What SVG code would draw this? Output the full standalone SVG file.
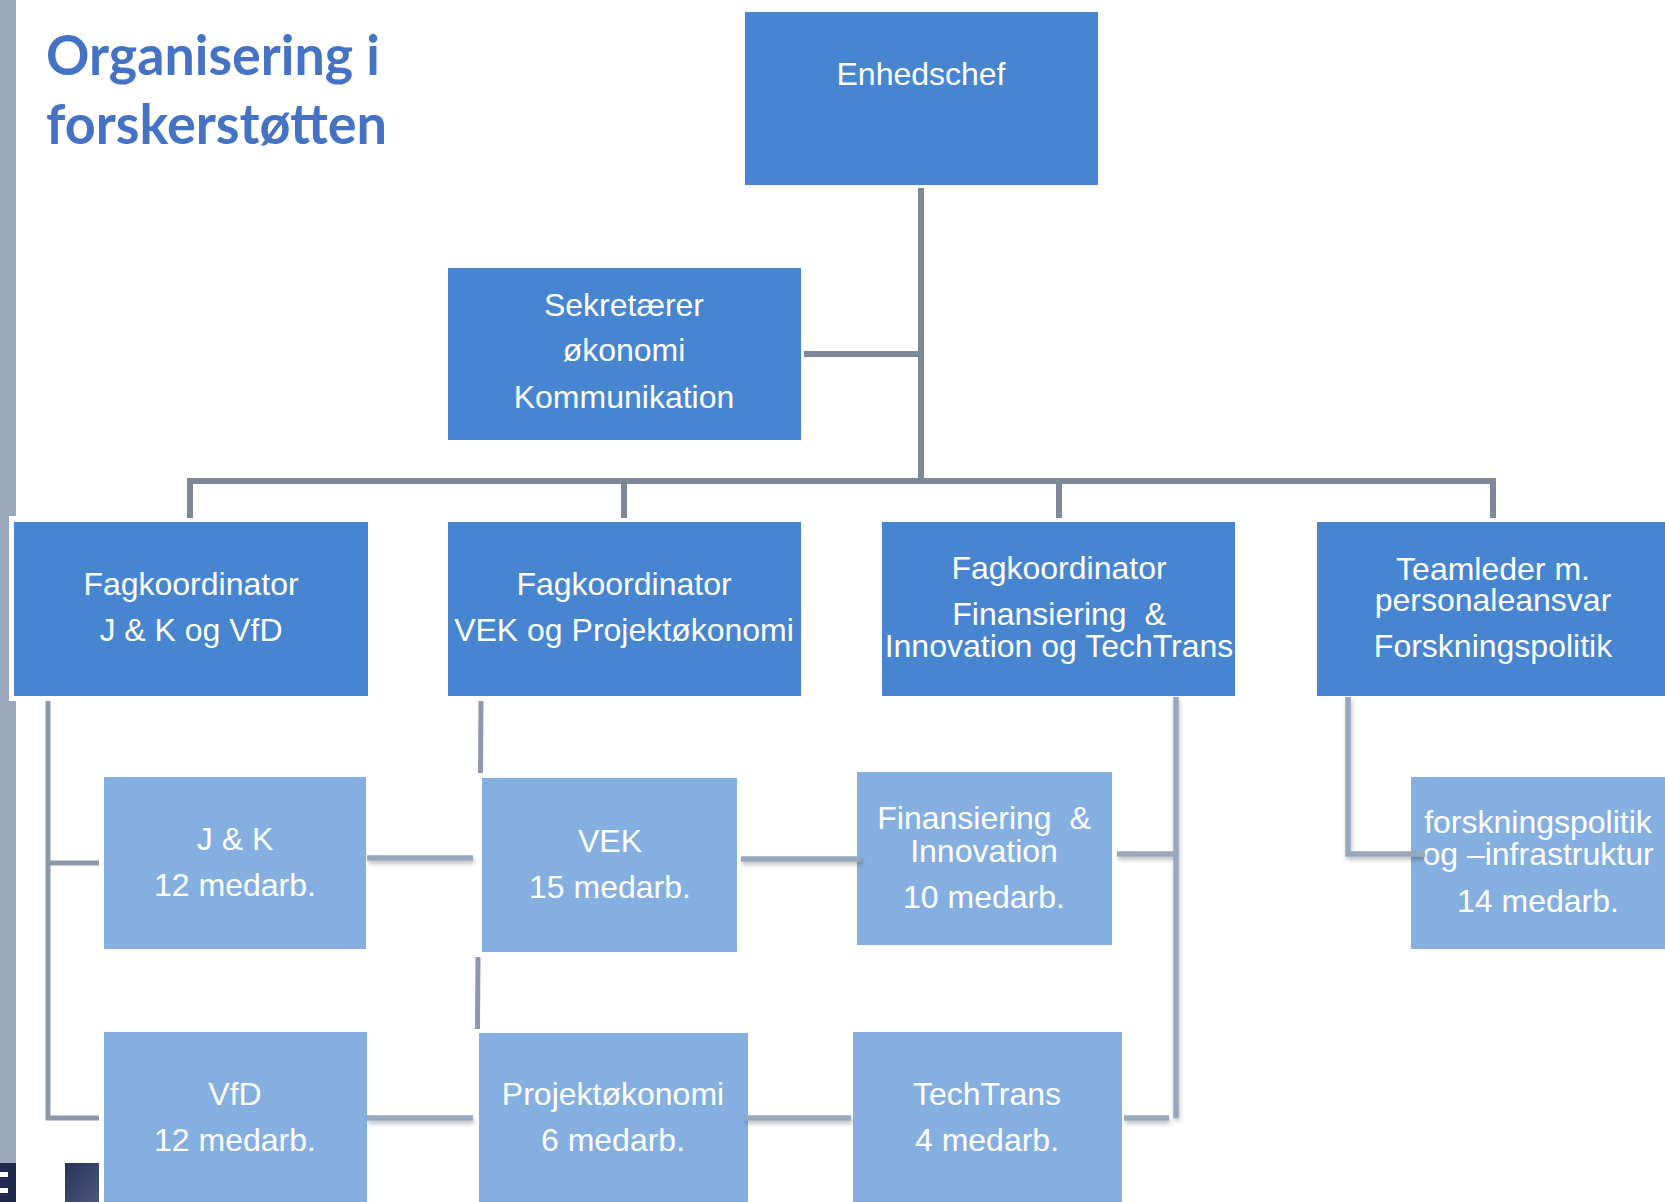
<svg xmlns="http://www.w3.org/2000/svg" width="1665" height="1202" viewBox="0 0 1665 1202">
<defs>
<style>
.dark{fill:#4785d0}
.light{fill:#85afe0}
.halo{fill:#ffffff}
.t{font-family:"Liberation Sans",Arial,sans-serif;font-size:32px;fill:#ffffff;text-anchor:middle}
.title{font-family:Lato,"Open Sans",sans-serif;font-weight:700;font-size:56px;fill:#4472c4}
.top{fill:none;stroke:#7d8898;stroke-width:6;stroke-linecap:square}
.low{fill:none;stroke:#97a8bd;stroke-width:5.5;stroke-linecap:butt;filter:url(#sh)}
.lowd{fill:none;stroke:#8c99ad;stroke-width:5;stroke-linecap:butt}
</style>
<filter id="sh" x="-20%" y="-20%" width="140%" height="180%">
<feDropShadow dx="1" dy="3" stdDeviation="2" flood-color="#000" flood-opacity="0.25"/>
</filter>
<linearGradient id="navy" x1="0" y1="0" x2="1" y2="1">
<stop offset="0" stop-color="#283458"/>
<stop offset="1" stop-color="#4c5779"/>
</linearGradient>
</defs>
<rect width="1665" height="1202" fill="#ffffff"/>
<rect x="0" y="0" width="16" height="1163" fill="#9aa9bc"/>
<rect x="0" y="1163" width="16" height="39" fill="#1f2a4d"/>
<rect x="0" y="1172" width="8" height="5" fill="#ffffff"/>
<rect x="0" y="1188" width="8" height="5" fill="#ffffff"/>
<rect x="65" y="1163" width="34" height="39" fill="url(#navy)"/>

<text class="title" x="46" y="75" textLength="334" lengthAdjust="spacingAndGlyphs">Organisering i</text>
<text class="title" x="46" y="144" textLength="341" lengthAdjust="spacingAndGlyphs">forskerstøtten</text>

<g id="enhedschef">
<rect class="dark" x="745" y="12" width="353" height="173"/>
<text class="t" x="921" y="85">Enhedschef</text>
</g>
<g id="sekretaerer">
<rect class="dark" x="448" y="268" width="353" height="172"/>
<text class="t" x="624" y="316">Sekretærer</text>
<text class="t" x="624" y="361">økonomi</text>
<text class="t" x="624" y="408">Kommunikation</text>
</g>
<g id="fag-jk">
<rect class="halo" x="9" y="516" width="364" height="185"/>
<rect class="dark" x="14" y="522" width="354" height="174"/>
<text class="t" x="191" y="595">Fagkoordinator</text>
<text class="t" x="191" y="641">J &amp; K og VfD</text>
</g>
<g id="fag-vek">
<rect class="dark" x="448" y="522" width="353" height="174"/>
<text class="t" x="624" y="595">Fagkoordinator</text>
<text class="t" x="624" y="641">VEK og Projektøkonomi</text>
</g>
<g id="fag-fin">
<rect class="dark" x="882" y="522" width="353" height="174"/>
<text class="t" x="1059" y="579">Fagkoordinator</text>
<text class="t" x="1059" y="625" xml:space="preserve">Finansiering  &amp;</text>
<text class="t" x="1059" y="657">Innovation og TechTrans</text>
</g>
<g id="teamleder">
<rect class="dark" x="1317" y="522" width="352" height="174"/>
<text class="t" x="1493" y="580">Teamleder m.</text>
<text class="t" x="1493" y="611">personaleansvar</text>
<text class="t" x="1493" y="657">Forskningspolitik</text>
</g>

<g id="jk">
<rect class="light" x="104" y="777" width="262" height="172"/>
<text class="t" x="235" y="850">J &amp; K</text>
<text class="t" x="235" y="896">12 medarb.</text>
</g>
<g id="vek">
<rect class="light" x="482" y="778" width="255" height="174"/>
<text class="t" x="610" y="852">VEK</text>
<text class="t" x="610" y="898">15 medarb.</text>
</g>
<g id="fininn">
<rect class="light" x="857" y="772" width="255" height="173"/>
<text class="t" x="984" y="829" xml:space="preserve">Finansiering  &amp;</text>
<text class="t" x="984" y="862">Innovation</text>
<text class="t" x="984" y="908">10 medarb.</text>
</g>
<g id="forskningspolitik">
<rect class="light" x="1411" y="777" width="254" height="172"/>
<text class="t" x="1538" y="833">forskningspolitik</text>
<text class="t" x="1538" y="865">og –infrastruktur</text>
<text class="t" x="1538" y="912">14 medarb.</text>
</g>
<g id="vfd">
<rect class="light" x="104" y="1032" width="263" height="170"/>
<text class="t" x="235" y="1105">VfD</text>
<text class="t" x="235" y="1151">12 medarb.</text>
</g>
<g id="projektokonomi">
<rect class="light" x="479" y="1033" width="269" height="169"/>
<text class="t" x="613" y="1105">Projektøkonomi</text>
<text class="t" x="613" y="1151">6 medarb.</text>
</g>
<g id="techtrans">
<rect class="light" x="853" y="1032" width="269" height="170"/>
<text class="t" x="987" y="1105">TechTrans</text>
<text class="t" x="987" y="1151">4 medarb.</text>
</g>

<g id="connectors">
<path class="top" d="M921,191 V481 M807,354 H921 M190,515 V481 H1493 V515 M624,481 V515 M1059,481 V515"/>
<path class="lowd" d="M48,701 V1118 H99 M48,863 H99"/>
<path class="low" d="M367,858 H473 M741,859 H861 M367,1118 H473 M745,1118 H851"/>
<path class="lowd" d="M481,701 L480.5,773 M478,957 L477.5,1029"/>
<path class="low" d="M1176,697 V1118 M1117,854 H1176 M1124,1118 H1169 M1348,697 V854 H1425"/>
</g>
</svg>
